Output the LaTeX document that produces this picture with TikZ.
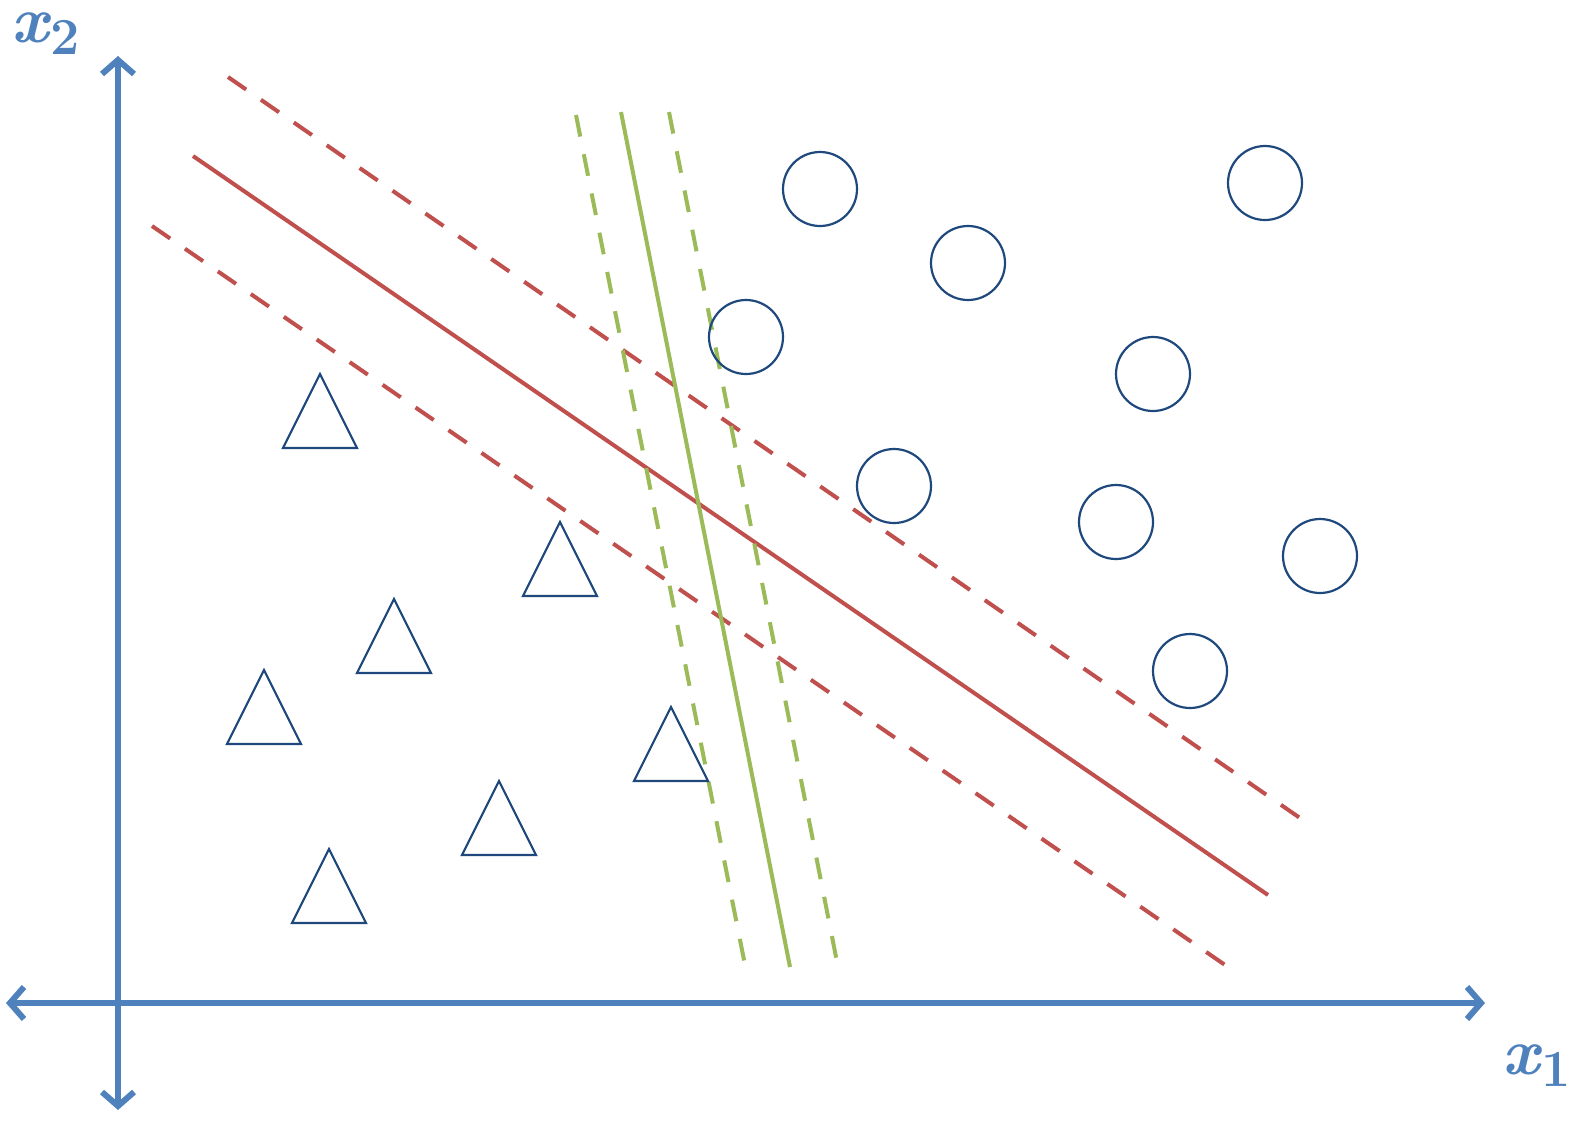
\documentclass[tikz,border=0pt]{standalone}
\usepackage{amsmath,amssymb}
\usetikzlibrary{arrows.meta}
\definecolor{axisblue}{RGB}{79,129,189}
\definecolor{sepred}{RGB}{192,80,77}
\definecolor{sepgreen}{RGB}{155,187,89}
\definecolor{ptblue}{RGB}{31,73,125}
\newcommand{\axlabel}[1]{\fontsize{66}{66}\selectfont\bfseries\itshape x\kern2pt\raisebox{-12pt}{\fontsize{52}{52}\selectfont\upshape #1}}
\tikzset{
  axis/.style={draw=axisblue,line width=6pt,{Straight Barb[length=14pt,width=32pt]}-{Straight Barb[length=14pt,width=32pt]}},
  redline/.style={draw=sepred,line width=4pt},
  greenline/.style={draw=sepgreen,line width=4pt},
  margin/.style={dash pattern=on 22pt off 18pt},
  dot/.style={circle,draw=ptblue,line width=2.2pt,minimum size=74pt,inner sep=0pt},
}
\begin{document}
\begin{tikzpicture}[x=1pt,y=1pt,yscale=-1]
\useasboundingbox (0,0) rectangle (1587,1128);

%axes
\draw [axis] (118,1110) -- (118,56);
\draw [axis] (6,1003) -- (1485,1003);
\node [text=axisblue,inner sep=0pt] (lx2) at (46,34) {\axlabel{2}};
\node [text=axisblue,inner sep=0pt] (lx1) at (1537,1066) {\axlabel{1}};

%red separator and margins
\draw [redline] (193,156) -- (1268,895);
\draw [redline,margin] (228,77) -- (1300,818);
\draw [redline,margin] (152,226) -- (1228,967);

%green separator and margins
\draw [greenline] (621,112) -- (790,967);
\draw [greenline,margin] (576,115) -- (746,970);
\draw [greenline,margin] (669,112) -- (838,967);

%circles
\foreach \px/\py [count=\i] in {820/189,968/263,1265/183,746/337,1153/374,894/486,1116/522,1320/556,1190/671}
  \node [dot] (c\i) at (\px,\py) {};

%triangles
\foreach \px/\py in {320/374,560/522,394/599,264/670,671/707,499/781,329/849}
  \draw [ptblue,line width=2.2pt,line join=miter] (\px,\py) -- ++(37,74) -- ++(-74,0) -- cycle;

\end{tikzpicture}
\end{document}
